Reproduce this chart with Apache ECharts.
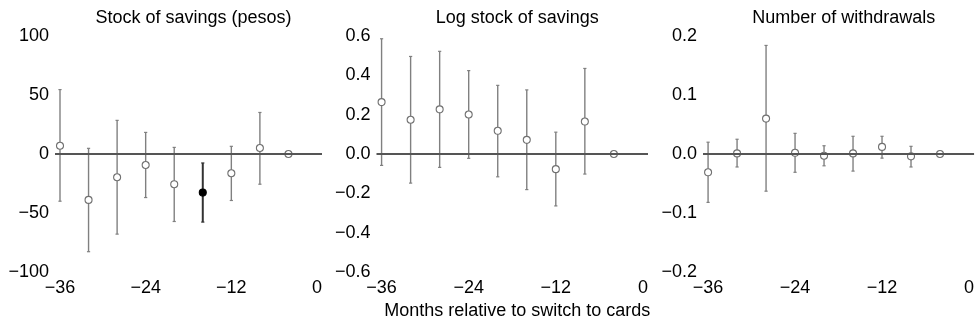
<!DOCTYPE html>
<html>
<head>
<meta charset="utf-8">
<script src="https://cdn.jsdelivr.net/npm/echarts@6/dist/echarts.min.js"></script>
<style>
html,body{margin:0;padding:0;background:#fff;}
#chart{width:977px;height:326px;}
</style>
</head>
<body>
<div id="chart"></div>
<script>
// ---- data ----
const months = [-36, -32, -28, -24, -20, -16, -12, -8, -4];

const panelTitles = ['Stock of savings (pesos)', 'Log stock of savings', 'Number of withdrawals'];
const xAxisTitle = 'Months relative to switch to cards';
const xTicks = [-36, -24, -12, 0];

const savingsEst = [7.0, -38.9, -19.7, -9.3, -25.6, -32.7, -16.3, 5.1, 0];
const savingsLo  = [-40.0, -82.8, -67.9, -36.9, -57.2, -57.7, -39.4, -25.6, null];
const savingsHi  = [54.6, 4.8, 28.5, 18.3, 5.6, -7.6, 6.5, 35.2, null];

const logEst = [0.264, 0.174, 0.227, 0.201, 0.118, 0.072, -0.077, 0.165, 0];
const logLo  = [-0.058, -0.148, -0.068, -0.022, -0.116, -0.181, -0.264, -0.102, null];
const logHi  = [0.586, 0.496, 0.522, 0.424, 0.349, 0.326, 0.111, 0.435, null];

const wdrEst = [-0.031, 0.001, 0.060, 0.002, -0.003, 0.001, 0.012, -0.004, 0];
const wdrLo  = [-0.082, -0.022, -0.063, -0.031, -0.020, -0.029, -0.007, -0.022, null];
const wdrHi  = [0.020, 0.025, 0.184, 0.035, 0.014, 0.030, 0.030, 0.013, null];

const yMin = [-100, -0.6, -0.2];
const yMax = [100, 0.6, 0.2];
const yStep = [50, 0.2, 0.1];
const yDecimals = [0, 1, 1];

// index of the significant (filled) estimate in each panel, -1 if none
const significant = [5, -1, -1];

// ---- layout / style ----
const FONT = '"Liberation Sans", Arial, sans-serif';
const grids = [
  {left: 55, width: 267, top: 36, height: 236},
  {left: 376.5, width: 271.5, top: 36, height: 236},
  {left: 703, width: 271.5, top: 36, height: 236}
];
const estSets = [savingsEst, logEst, wdrEst];
const loSets = [savingsLo, logLo, wdrLo];
const hiSets = [savingsHi, logHi, wdrHi];

const fmtMinus = (s) => String(s).replace('-', '\u2212');

const option = {
  animation: false,
  backgroundColor: '#fff',
  title: [],
  grid: grids,
  xAxis: [],
  yAxis: [],
  series: []
};

grids.forEach((g, i) => {
  option.title.push({
    text: panelTitles[i],
    left: g.left + g.width / 2,
    top: 4,
    textAlign: 'center',
    textStyle: {fontFamily: FONT, fontSize: 18, fontWeight: 'normal', color: '#000'}
  });
  option.xAxis.push({
    gridIndex: i,
    type: 'value',
    min: -36.7,
    max: 0.7,
    axisLine: {show: false},
    axisTick: {show: false},
    splitLine: {show: false},
    axisLabel: {
      customValues: xTicks,
      margin: 7,
      fontFamily: FONT, fontSize: 18, color: '#000',
      formatter: (v) => fmtMinus(v)
    }
  });
  option.yAxis.push({
    gridIndex: i,
    type: 'value',
    min: yMin[i],
    max: yMax[i],
    interval: yStep[i],
    axisLine: {show: false},
    axisTick: {show: false},
    splitLine: {show: false},
    axisLabel: {
      margin: 6,
      fontFamily: FONT, fontSize: 18, color: '#000',
      formatter: (v) => fmtMinus(Number(v).toFixed(yDecimals[i]))
    }
  });

  const est = estSets[i], lo = loSets[i], hi = hiSets[i];

  // zero reference line
  option.series.push({
    type: 'line',
    xAxisIndex: i, yAxisIndex: i,
    data: [],
    silent: true,
    z: 1,
    markLine: {
      silent: true,
      symbol: 'none',
      label: {show: false},
      lineStyle: {color: '#555', width: 2, type: 'solid'},
      data: [{yAxis: 0}]
    }
  });

  // error bars
  const ebData = [];
  months.forEach((m, k) => {
    if (lo[k] !== null && hi[k] !== null) ebData.push([m, lo[k], hi[k], k === significant[i] ? 1 : 0]);
  });
  option.series.push({
    type: 'custom',
    xAxisIndex: i, yAxisIndex: i,
    z: 2,
    data: ebData,
    renderItem: (params, api) => {
      const x = api.value(0);
      const pLo = api.coord([x, api.value(1)]);
      const pHi = api.coord([x, api.value(2)]);
      const sig = api.value(3) === 1;
      const color = sig ? '#333' : '#808080';
      const w = sig ? 2 : 1.4;
      const cap = 1.6;
      return {
        type: 'group',
        children: [
          {type: 'line', shape: {x1: pLo[0], y1: pLo[1], x2: pHi[0], y2: pHi[1]}, style: {stroke: color, lineWidth: w}},
          {type: 'line', shape: {x1: pLo[0] - cap, y1: pLo[1], x2: pLo[0] + cap, y2: pLo[1]}, style: {stroke: color, lineWidth: 1.2}},
          {type: 'line', shape: {x1: pHi[0] - cap, y1: pHi[1], x2: pHi[0] + cap, y2: pHi[1]}, style: {stroke: color, lineWidth: 1.2}}
        ]
      };
    }
  });

  // point estimates
  option.series.push({
    type: 'scatter',
    xAxisIndex: i, yAxisIndex: i,
    z: 3,
    symbol: 'circle',
    symbolSize: 7,
    itemStyle: {color: '#fff', borderColor: '#707070', borderWidth: 1.1, opacity: 1},
    data: months.map((m, k) => k === significant[i]
      ? {value: [m, est[k]], itemStyle: {color: '#000', borderColor: '#000'}}
      : [m, est[k]])
  });
});

option.title.push({
  text: xAxisTitle,
  left: grids[1].left + grids[1].width / 2,
  top: 297,
  textAlign: 'center',
  textStyle: {fontFamily: FONT, fontSize: 18, fontWeight: 'normal', color: '#000'}
});

const chart = echarts.init(document.getElementById('chart'), null, {renderer: 'canvas'});
chart.setOption(option);
</script>
</body>
</html>
